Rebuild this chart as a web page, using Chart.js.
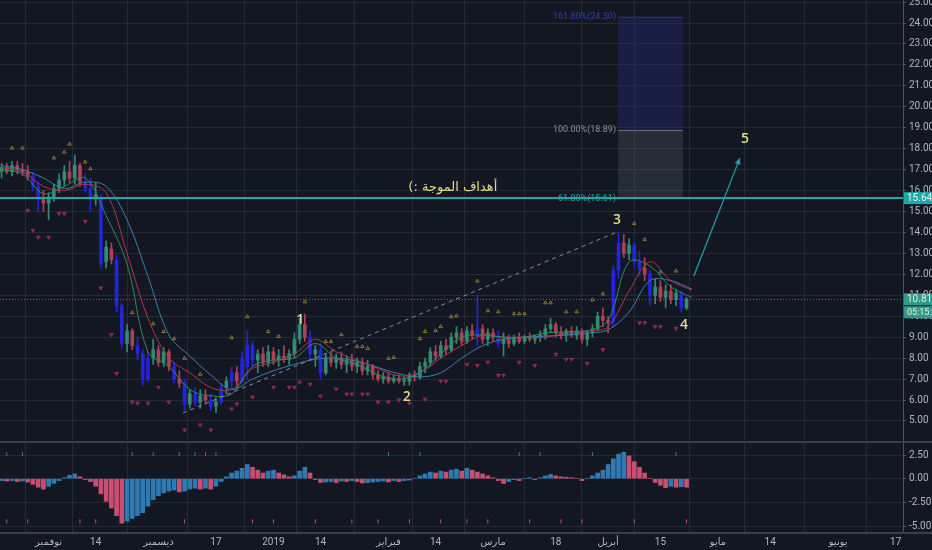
<!DOCTYPE html>
<html>
<head>
<meta charset="utf-8">
<script src="https://cdn.jsdelivr.net/npm/chart.js@4.4.1/dist/chart.umd.min.js"></script>
<style>
  html, body { margin: 0; padding: 0; background: #131722; overflow: hidden; }
  canvas { display: block; }
</style>
</head>
<body>
<canvas id="price" width="932" height="441"></canvas>
<canvas id="macd" width="932" height="109"></canvas>
<script>
// daily candles, index 0 = first visible session (mid Oct 2018)
const opens = [16.9,17.1,16.9,17.2,17.0,16.9,16.7,16.2,15.6,15.4, 15.7,16.1,16.5,16.9,16.6,17.2,16.4,16.1,15.6,15.6,
  12.6,13.2,12.7,10.5,8.7,9.3,8.6,8.2,7.0,8.0, 8.4,7.8,8.3,7.6,7.0,6.8,5.8,6.3,5.9,6.2,
  6.0,5.7,5.9,6.6,6.9,7.3,6.9,7.6,8.6,7.9, 8.2,7.8,8.3,7.9,8.1,8.0,8.2,8.9,9.6,9.0,
  8.2,8.4,7.3,8.0,7.8,8.0,7.7,7.9,7.6,7.8, 7.4,7.6,7.2,7.0,7.1,6.9,7.0,6.9,6.9,7.2,
  7.1,7.6,7.8,8.3,8.1,8.6,8.4,9.0,9.2,8.8, 9.3,9.1,9.4,8.9,9.2,9.0,8.7,8.9,8.7,9.0,
  8.8,9.0,8.9,9.0,9.1,9.4,9.6,9.2,9.1,9.3, 9.1,9.3,8.9,9.2,9.4,10.0,9.8,9.7,12.2,13.5,
  13.0,13.4,12.6,12.3,12.0,11.0,11.4,10.9,11.2,10.8, 11.1,10.4];
const highs = [17.3,17.3,17.4,17.4,17.3,17.2,16.9,16.4,16.0,15.9, 16.3,16.8,17.2,17.4,17.7,17.3,16.8,16.6,16.4,15.8,
  13.6,13.5,12.9,10.6,9.6,9.4,9.0,8.4,8.3,8.9, 8.6,8.5,8.4,7.8,7.4,7.0,6.5,6.6,6.5,6.5,
  6.3,6.1,6.8,7.1,7.6,7.6,8.3,9.3,8.8,8.4, 8.5,8.6,8.5,8.4,8.6,8.4,9.2,9.9,10.1,9.3,
  8.6,8.7,8.2,8.3,8.2,8.3,8.1,8.2,8.0,8.0, 7.9,7.7,7.4,7.3,7.3,7.2,7.2,7.1,7.3,7.4,
  7.8,8.0,8.5,8.6,8.8,8.9,9.2,9.5,9.4,9.5, 9.6,11.0,9.6,9.4,9.4,9.3,9.2,9.1,9.1,9.2,
  9.1,9.2,9.1,9.3,9.6,9.9,9.7,9.5,9.4,9.5, 9.5,9.4,9.3,9.6,10.2,10.4,10.0,12.4,14.0,13.9,
  13.7,13.5,13.1,12.8,12.2,11.8,11.7,11.5,11.5,11.3, 11.2,10.9];
const lows = [16.6,16.8,16.7,16.8,16.7,16.5,16.0,15.0,15.0,14.6, 15.5,15.9,16.2,16.4,16.3,16.2,15.9,15.0,15.3,12.3,
  12.3,12.5,10.2,8.5,8.3,8.4,7.9,6.7,6.9,7.7, 7.6,7.6,7.4,6.8,6.6,5.5,5.6,5.7,5.6,5.8,
  5.5,5.4,5.8,6.3,6.5,6.6,6.8,7.0,7.6,7.3, 7.6,7.6,7.7,7.6,7.8,7.7,8.0,8.7,8.8,7.9,
  7.6,7.0,7.2,7.6,7.5,7.5,7.3,7.4,7.3,7.2, 7.2,7.0,6.9,6.8,6.8,6.8,6.8,6.7,6.7,6.9,
  7.0,7.3,7.6,7.9,8.0,8.2,8.3,8.7,8.6,8.7, 8.9,8.6,8.7,8.6,8.8,8.5,8.1,8.5,8.6,8.7,
  8.7,8.8,8.7,8.8,8.9,9.2,9.0,8.9,8.8,9.0, 8.9,8.7,8.6,9.0,9.3,9.5,9.2,9.5,11.8,12.8,
  12.7,12.4,11.9,11.7,10.5,10.6,10.7,10.4,10.6,10.5, 10.2,10.3];
const closes = [17.1,16.9,17.2,17.0,16.9,16.7,16.2,15.6,15.4,15.7, 16.1,16.5,16.9,16.6,17.2,16.4,16.1,15.6,15.8,12.5,
  13.3,12.7,10.5,8.7,9.3,8.6,8.2,7.0,8.0,8.4, 7.8,8.3,7.6,7.0,6.8,5.8,6.3,5.9,6.2,6.0,
  5.7,5.9,6.6,6.9,7.3,6.9,8.0,8.6,7.9,8.2, 7.8,8.3,7.9,8.1,8.0,8.2,8.9,9.6,9.0,8.2,
  8.4,7.3,8.0,7.8,8.0,7.7,7.9,7.6,7.8,7.4, 7.6,7.2,7.0,7.1,6.9,7.0,6.9,6.9,7.2,7.1,
  7.6,7.8,8.3,8.1,8.6,8.4,9.0,9.2,8.8,9.3, 9.1,9.4,8.9,9.2,9.0,8.7,8.9,8.7,9.0,8.8,
  9.0,8.9,9.0,9.1,9.4,9.6,9.2,9.1,9.3,9.1, 9.3,8.9,9.2,9.4,10.0,9.8,9.7,12.2,13.5,13.0,
  13.4,12.6,12.3,12.0,11.0,11.4,10.9,11.2,10.8,11.1, 10.4,10.81];

// moving averages, every 4th session
const maIdx  = [0,4,8,12,16,20,24,28,32,36,40,44,48,52,56,60,64,68,72,76,80,84,88,92,96,100,104,108,112,116,120,124,128,132];
const maFast = [17.0,16.8,15.85,16.2,16.6,14.8,12.5,8.3,7.6,6.5,6.2,6.3,7.6,7.9,8.0,8.7,8.0,7.7,7.2,7.0,7.3,8.2,9.0,9.1,9.0,9.0,9.2,9.25,9.3,9.8,12.6,12.4,11.4,10.9];
const maMid  = [17.1,16.9,16.2,16.0,16.3,15.9,13.0,9.9,8.0,7.3,6.6,6.5,7.5,7.8,8.2,8.9,8.3,7.9,7.5,7.15,7.3,8.0,8.6,9.1,9.0,9.0,9.0,9.2,9.3,9.5,11.2,12.6,11.7,11.25];
const maSlow = [17.2,17.0,16.6,16.1,16.4,16.2,14.6,11.9,9.1,8.1,7.2,6.5,7.0,7.4,7.7,7.95,8.0,7.85,7.55,7.25,7.1,7.3,8.0,8.6,8.9,9.0,9.05,9.1,9.2,9.35,10.2,11.7,11.7,11.3];

// small marks above highs / below lows
const topMarkIdx = [2,4,10,12,13,16,17,25,29,31,33,35,38,44,47,51,53,58,62,63,65,68,69,70,74,75,80,81,83,84,86,87,91,93,95,98,99,100,104,105,108,110,113,115,121,123,126,129];
const topMarkVal = [18.03,18.03,17.56,17.84,18.22,17.37,17.04,10.17,9.64,9.27,8.93,7.99,7.23,8.98,9.98,9.27,9.03,10.69,8.79,8.79,9.12,8.55,8.55,8.46,7.99,8.03,8.93,9.27,9.31,9.5,9.98,10.02,11.68,10.26,10.21,10.12,10.12,10.12,10.64,10.64,10.21,10.21,10.78,11.07,14.43,13.67,12.11,12.16];
const lowMarkIdx = [5,6,7,9,11,12,16,19,21,22,25,26,28,30,32,35,38,40,44,45,48,52,55,56,57,59,61,64,66,67,69,70,72,74,76,78,81,84,85,89,91,93,95,96,99,102,106,108,109,112,115,122,123,125,126,129];
const lowMarkVal = [15.05,14.1,13.77,13.77,14.9,14.9,14.53,11.35,9.12,7.27,5.9,5.85,5.85,6.61,5.9,4.57,4.81,4.57,5.57,5.81,6.14,6.61,6.61,6.61,6.85,6.75,6.18,6.52,6.28,6.28,6.28,6.28,5.9,5.9,6.0,5.85,6.04,6.9,6.9,7.7,7.65,7.8,7.18,7.18,7.8,7.65,8.18,7.94,7.94,7.75,8.41,9.69,9.69,9.5,9.5,9.41];

// MACD histogram
const macdHist = [-0.2,-0.25,-0.2,-0.3,-0.25,-0.35,-0.6,-0.9,-1.1,-0.8, -0.5,-0.2,0.1,0.35,0.5,0.2,-0.1,-0.3,-0.8,-1.6,
  -2.4,-3.1,-3.9,-4.7,-4.5,-4.2,-3.9,-3.6,-2.9,-2.2, -1.8,-1.5,-1.3,-1.2,-1.4,-1.3,-1.1,-1.0,-1.1,-1.0,
  -1.1,-0.8,-0.3,0.2,0.6,0.8,1.1,1.5,1.2,0.9, 0.6,0.8,0.9,0.6,0.4,0.2,0.3,0.8,1.2,0.6,
  -0.1,-0.4,-0.35,-0.3,-0.4,-0.25,-0.3,-0.2,-0.3,-0.45, -0.4,-0.35,-0.3,-0.25,-0.35,-0.2,-0.3,-0.2,-0.15,0.0,
  0.3,0.5,0.7,0.6,0.8,0.7,0.9,1.0,0.8,1.1, 0.9,0.7,0.5,0.3,0.1,-0.2,-0.5,-0.3,-0.1,-0.2,
  0.0,0.1,-0.1,0.1,0.3,0.45,0.3,0.2,0.15,0.1, 0.0,-0.2,0.0,0.3,0.6,0.9,1.5,2.1,2.6,2.8,
  2.4,1.8,1.2,0.6,0.0,-0.4,-0.7,-0.95,-0.8,-0.9, -0.85,-0.9];
const sigUpIdx = [1,4,25,29,34,37,39,41,74,80,99,103,113,129];
const sigDownIdx = [1,5,15,18,35,48,52,60,67,72,78,84,89,93,101,107,111,121,131];

// axes
const priceTicks = [5,6,7,8,9,10,11,12,13,14,15,16,17,18,19,20,21,22,23,24,25];
const macdTicks = [-5,-2.5,0,2.5];
const dateTickIdx = [9,18,30,41,52,61,74,83,94,106,116,126,137,147,160,171];
const dateTickText = ['نوفمبر','14','ديسمبر','17','2019','14','فبراير','14','مارس','18','أبريل','15','مايو','14','يونيو','17'];

// drawings
const targetLevel = 15.64;
const lastPrice = 10.81;
const countdown = '05:15:22';
const fibLevels = [15.61, 18.89, 24.30];
const fibText = ['61.80%(15.61)', '100.00%(18.89)', '161.80%(24.30)'];
const fibSpan = [117.9, 130.3];
const waveText = ['1', '2', '3', '4', '5'];
const waveIdx = [57.1, 77.5, 117.7, 130.5, 142.2];
const wavePrice = [9.82, 6.15, 14.59, 9.58, 18.46];
const trendIdx = [34.7, 117.7];
const trendPrice = [5.38, 14.02];
const arrowIdx = [132.4, 141.2];
const arrowPrice = [11.92, 17.55];
const noteText = 'أهداف الموجة :)';
const noteIdx = 86.3, notePrice = 16.12;

const BG = '#131722', GRID = '#262a35', TXT = '#b2b5be', TEAL = '#22a7a7';
const FONT = 'Roboto, "DejaVu Sans", sans-serif';
Chart.defaults.font.family = FONT;
Chart.defaults.font.size = 10;
Chart.defaults.color = TXT;

function candleColor(i) {
  const range = (highs[i] - lows[i]) / closes[i];
  if (range > 0.15 || (i > 0 && closes[i] < lows[i - 1])) return '#2424d8';
  return closes[i] >= opens[i] ? '#348a74' : '#b04055';
}
const barColors = closes.map((c, i) => candleColor(i));

const xRange = { min: -0.3, max: 172.4 };
function setDateTicks(s) { s.ticks = dateTickIdx.map(v => ({ value: v })); }
// keep the plot flush with the panel edges (no room reserved for half labels)
function noEdgePadding(s) { s.paddingTop = 0; s.paddingBottom = 0; s.paddingLeft = 0; s.paddingRight = 0; }

const overlay = {
  id: 'overlay',
  beforeDatasetsDraw(chart) {
    const { ctx, scales: { x, y } } = chart;
    const x1 = x.getPixelForValue(fibSpan[0]), x2 = x.getPixelForValue(fibSpan[1]);
    const yLo = y.getPixelForValue(fibLevels[0]);
    const yMid = y.getPixelForValue(fibLevels[1]);
    const yHi = y.getPixelForValue(fibLevels[2]);
    ctx.save();
    ctx.fillStyle = 'rgba(40,44,150,0.30)';
    ctx.fillRect(x1, yHi, x2 - x1, yMid - yHi);
    ctx.fillStyle = 'rgba(120,123,134,0.22)';
    ctx.fillRect(x1, yMid, x2 - x1, yLo - yMid);
    ctx.lineWidth = 1;
    ctx.strokeStyle = '#2a32a0';
    ctx.beginPath(); ctx.moveTo(x1, yHi + 0.5); ctx.lineTo(x2, yHi + 0.5); ctx.stroke();
    ctx.strokeStyle = '#6d707a';
    ctx.beginPath(); ctx.moveTo(x1, yMid + 0.5); ctx.lineTo(x2, yMid + 0.5); ctx.stroke();
    ctx.font = '9px ' + FONT;
    ctx.textAlign = 'right';
    ctx.textBaseline = 'middle';
    const fibColors = [TEAL, '#8b8e97', '#3540b0'];
    [yLo, yMid, yHi].forEach((yy, k) => {
      ctx.fillStyle = fibColors[k];
      ctx.fillText(fibText[k], x1 - 2, yy);
    });
    ctx.restore();
  },
  afterDatasetsDraw(chart) {
    const { ctx, chartArea: a, scales: { x, y } } = chart;
    ctx.save();
    // last price dotted line
    const yLast = Math.round(y.getPixelForValue(lastPrice)) + 0.5;
    ctx.strokeStyle = 'rgba(38,166,154,0.8)';
    ctx.setLineDash([1, 2]);
    ctx.lineWidth = 1;
    ctx.beginPath(); ctx.moveTo(a.left, yLast); ctx.lineTo(a.right, yLast); ctx.stroke();
    // wave trend line
    ctx.strokeStyle = '#8a8d96';
    ctx.setLineDash([4, 4]);
    ctx.beginPath();
    ctx.moveTo(x.getPixelForValue(trendIdx[0]), y.getPixelForValue(trendPrice[0]));
    ctx.lineTo(x.getPixelForValue(trendIdx[1]), y.getPixelForValue(trendPrice[1]));
    ctx.stroke();
    ctx.setLineDash([]);
    // target line
    const yT = y.getPixelForValue(targetLevel);
    ctx.strokeStyle = TEAL;
    ctx.lineWidth = 2;
    ctx.beginPath(); ctx.moveTo(a.left, yT); ctx.lineTo(a.right, yT); ctx.stroke();
    // arrow to wave 5
    const ax1 = x.getPixelForValue(arrowIdx[0]), ay1 = y.getPixelForValue(arrowPrice[0]);
    const ax2 = x.getPixelForValue(arrowIdx[1]), ay2 = y.getPixelForValue(arrowPrice[1]);
    ctx.strokeStyle = '#1f9ea0'; ctx.fillStyle = '#1f9ea0'; ctx.lineWidth = 1.3;
    ctx.beginPath(); ctx.moveTo(ax1, ay1); ctx.lineTo(ax2, ay2); ctx.stroke();
    const ang = Math.atan2(ay2 - ay1, ax2 - ax1);
    ctx.beginPath();
    ctx.moveTo(ax2, ay2);
    ctx.lineTo(ax2 - 7 * Math.cos(ang - 0.45), ay2 - 7 * Math.sin(ang - 0.45));
    ctx.lineTo(ax2 - 7 * Math.cos(ang + 0.45), ay2 - 7 * Math.sin(ang + 0.45));
    ctx.closePath(); ctx.fill();
    // wave numbers
    ctx.fillStyle = '#e6dd8c';
    ctx.font = '600 14px "Open Sans", sans-serif';
    ctx.textAlign = 'center';
    ctx.textBaseline = 'middle';
    waveText.forEach((t, k) => {
      ctx.fillText(t, x.getPixelForValue(waveIdx[k]), y.getPixelForValue(wavePrice[k]));
    });
    // arabic note
    ctx.font = '13px "DejaVu Sans", sans-serif';
    ctx.direction = 'rtl';
    ctx.fillText(noteText, x.getPixelForValue(noteIdx), y.getPixelForValue(notePrice));
    ctx.restore();
  },
  afterDraw(chart) {
    const { ctx, chartArea: a, scales: { y } } = chart;
    ctx.save();
    ctx.textAlign = 'left';
    ctx.textBaseline = 'middle';
    const box = (yc, fill, color, text, size) => {
      ctx.fillStyle = fill;
      ctx.fillRect(a.right + 1, yc - 6, chart.width - a.right - 1, 12);
      ctx.fillStyle = color;
      ctx.font = size + 'px ' + FONT;
      ctx.fillText(text, a.right + 4, yc + 0.5);
    };
    const yT = y.getPixelForValue(targetLevel);
    box(yT, TEAL, '#e9f7f7', targetLevel.toFixed(2), 10);
    const yL = y.getPixelForValue(lastPrice);
    box(yL, '#2e9c8c', '#f0eec8', lastPrice.toFixed(2), 10);
    box(yL + 13, '#2e9c8c', '#f0eec8', countdown, 9);
    ctx.restore();
  }
};

new Chart(document.getElementById('price'), {
  type: 'bar',
  data: {
    datasets: [
      { type: 'line', data: maIdx.map((v, k) => ({ x: v, y: maFast[k] })), borderColor: '#2f8a5c', borderWidth: 1, pointRadius: 0, tension: 0.35, order: 1 },
      { type: 'line', data: maIdx.map((v, k) => ({ x: v, y: maMid[k] })), borderColor: '#b0354f', borderWidth: 1, pointRadius: 0, tension: 0.35, order: 1 },
      { type: 'line', data: maIdx.map((v, k) => ({ x: v, y: maSlow[k] })), borderColor: '#3a7fae', borderWidth: 1, pointRadius: 0, tension: 0.35, order: 1 },
      { type: 'bar', data: closes.map((c, i) => ({ x: i, y: [lows[i], highs[i]] })), backgroundColor: barColors, barThickness: 1, grouped: false, order: 3 },
      { type: 'bar', data: closes.map((c, i) => ({ x: i, y: [opens[i], c] })), backgroundColor: barColors, barThickness: 3, minBarLength: 1, grouped: false, order: 2 },
      { type: 'scatter', data: topMarkIdx.map((v, k) => ({ x: v, y: topMarkVal[k] })), pointStyle: 'triangle', radius: 2, borderColor: '#8c7a34', backgroundColor: 'rgba(0,0,0,0)', borderWidth: 1, order: 0 },
      { type: 'scatter', data: lowMarkIdx.map((v, k) => ({ x: v, y: lowMarkVal[k] })), pointStyle: 'triangle', rotation: 180, radius: 2, borderColor: '#a02c58', backgroundColor: '#6a1c3e', borderWidth: 1, order: 0 }
    ]
  },
  options: {
    responsive: false,
    animation: false,
    devicePixelRatio: 1,
    layout: { autoPadding: false, padding: { top: 0, bottom: 1, left: 0, right: 0 } },
    plugins: { legend: { display: false }, tooltip: { enabled: false } },
    scales: {
      x: {
        type: 'linear', min: xRange.min, max: xRange.max, offset: false,
        afterBuildTicks: setDateTicks,
        afterFit(s) { s.height = 0; noEdgePadding(s); },
        ticks: { display: false },
        grid: { color: GRID, drawTicks: false },
        border: { display: false }
      },
      y: {
        position: 'right', min: 4.09, max: 25.10,
        afterBuildTicks(s) { s.ticks = priceTicks.map(v => ({ value: v })); },
        afterFit(s) { s.width = 29; noEdgePadding(s); },
        ticks: { padding: 3, color: TXT, font: { size: 10 }, callback: v => Number(v).toFixed(2) },
        grid: { color: GRID, tickLength: 3, tickColor: '#50535e' },
        border: { display: true, color: '#50535e' }
      }
    }
  },
  plugins: [overlay]
});

const histColors = macdHist.map((v, i) => (i > 0 && v < macdHist[i - 1]) ? '#c84f74' : '#2f7ab5');

const panelFrame = {
  id: 'panelFrame',
  afterDraw(chart) {
    const { ctx, chartArea: a } = chart;
    ctx.save();
    ctx.strokeStyle = '#3a3e4a';
    ctx.lineWidth = 2;
    ctx.beginPath(); ctx.moveTo(0, 1); ctx.lineTo(chart.width, 1); ctx.stroke();
    ctx.beginPath(); ctx.moveTo(0, a.bottom + 1); ctx.lineTo(chart.width, a.bottom + 1); ctx.stroke();
    ctx.restore();
  }
};

new Chart(document.getElementById('macd'), {
  type: 'bar',
  data: {
    datasets: [
      { type: 'bar', data: macdHist.map((v, i) => ({ x: i, y: v })), backgroundColor: histColors, barThickness: 4, grouped: false, order: 2 },
      { type: 'scatter', data: sigUpIdx.map(v => ({ x: v, y: 2.6 })), pointStyle: 'line', rotation: 90, radius: 2, borderColor: '#2f8a5c', borderWidth: 1, order: 1 },
      { type: 'scatter', data: sigDownIdx.map(v => ({ x: v, y: -4.5 })), pointStyle: 'line', rotation: 90, radius: 2, borderColor: '#c84f74', borderWidth: 1, order: 1 }
    ]
  },
  options: {
    responsive: false,
    animation: false,
    devicePixelRatio: 1,
    layout: { autoPadding: false, padding: { top: 2, bottom: 0, left: 0, right: 0 } },
    plugins: { legend: { display: false }, tooltip: { enabled: false } },
    scales: {
      x: {
        type: 'linear', min: xRange.min, max: xRange.max, offset: false,
        afterBuildTicks: setDateTicks,
        afterFit(s) { s.height = 18; noEdgePadding(s); },
        ticks: {
          autoSkip: false, maxRotation: 0, padding: 4, color: TXT, font: { size: 10 },
          callback: v => dateTickText[dateTickIdx.indexOf(v)]
        },
        grid: { color: GRID, drawTicks: false },
        border: { display: false }
      },
      y: {
        position: 'right', min: -5.63, max: 3.77,
        afterBuildTicks(s) { s.ticks = macdTicks.map(v => ({ value: v })); },
        afterFit(s) { s.width = 29; noEdgePadding(s); },
        ticks: { padding: 3, color: TXT, font: { size: 10 }, callback: v => Number(v).toFixed(2) },
        grid: { color: GRID, tickLength: 3, tickColor: '#50535e' },
        border: { display: true, color: '#50535e' }
      }
    }
  },
  plugins: [panelFrame]
});
</script>
</body>
</html>
